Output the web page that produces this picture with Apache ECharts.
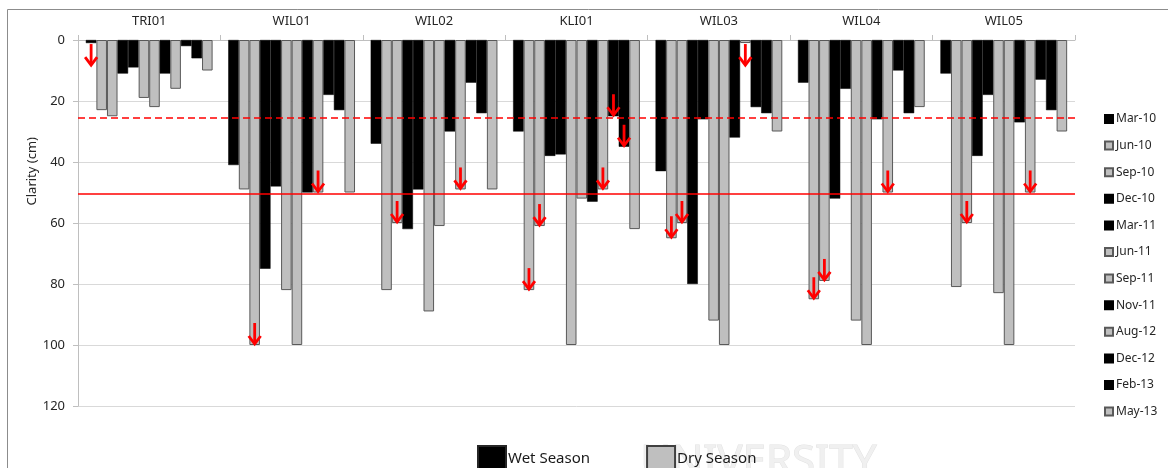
<!DOCTYPE html>
<html>
<head>
<meta charset="utf-8">
<title>Water clarity by site</title>
<script src="https://cdn.jsdelivr.net/npm/echarts@6/dist/echarts.min.js"></script>
<style>
  html, body { margin: 0; padding: 0; background: #ffffff; }
  #chart { width: 1168px; height: 468px; }
</style>
</head>
<body>
<div id="chart"></div>
<script>
// Sampling sites along the x axis
const sites = ['TRI01', 'WIL01', 'WIL02', 'KLI01', 'WIL03', 'WIL04', 'WIL05'];

// Sampling dates and their season
const dates = ['Mar-10', 'Jun-10', 'Sep-10', 'Dec-10', 'Mar-11', 'Jun-11',
               'Sep-11', 'Nov-11', 'Aug-12', 'Dec-12', 'Feb-13', 'May-13'];
const seasons = ['wet', 'dry', 'dry', 'wet', 'wet', 'dry',
                 'dry', 'wet', 'dry', 'wet', 'wet', 'dry'];

// Clarity (cm) per date, one value per site in the order of `sites`
const mar10 = [1, 41, 34, 30, 43, 14, 11];
const jun10 = [23, 49, 82, 82, 65, 85, 81];
const sep10 = [25, 100, 60, 61, 60, 79, 60];
const dec10 = [11, 75, 62, 38, 80, 52, 38];
const mar11 = [9, 48, 49, 37.5, 26, 16, 18];
const jun11 = [19, 82, 89, 100, 92, 92, 83];
const sep11 = [22, 100, 61, 52, 100, 100, 100];
const nov11 = [11, 50, 30, 53, 32, 26, 27];
const aug12 = [16, 50, 49, 49, 1, 50, 50];
const dec12 = [2, 18, 14, 25, 22, 10, 13];
const feb13 = [6, 23, 24, 35, 24, 24, 23];
const may13 = [10, 50, 49, 62, 30, 22, 30];
const clarity = [mar10, jun10, sep10, dec10, mar11, jun11, sep11, nov11, aug12, dec12, feb13, may13];

// Readings where the disc was still visible at the bottom: [site index, date index]
const bottomVisible = [
  [0, 0],
  [1, 2], [1, 8],
  [2, 2], [2, 8],
  [3, 1], [3, 2], [3, 8], [3, 9], [3, 10],
  [4, 1], [4, 2], [4, 8],
  [5, 1], [5, 2], [5, 8],
  [6, 2], [6, 8]
];

// Reference levels (cm)
const dashedLevel = 25.6;
const solidLevel = 50.5;

// Y axis ticks
const yMin = 0, yMax = 120, yStep = 20;

const FONT = 'Noto Sans';
const WET = '#000000';
const DRY = '#bfbfbf';
const DRY_EDGE = '#595959';
const CAT_GAP = 0.11;

const chart = echarts.init(document.getElementById('chart'), null, { renderer: 'canvas' });

const barSeries = dates.map((d, i) => ({
  name: d,
  type: 'bar',
  data: clarity[i],
  barGap: '0%',
  barCategoryGap: (CAT_GAP * 100) + '%',
  itemStyle: seasons[i] === 'wet'
    ? { color: WET, borderColor: WET, borderWidth: 0.5 }
    : { color: DRY, borderColor: DRY_EDGE, borderWidth: 1 },
  emphasis: { disabled: true },
  z: 2
}));

// Empty series that only feed the season legend (scatter, so they take no bar slot)
const seasonSeries = [
  { name: 'Wet Season', type: 'scatter', data: [], itemStyle: { color: WET, opacity: 1, borderColor: '#262626', borderWidth: 1 } },
  { name: 'Dry Season', type: 'scatter', data: [], itemStyle: { color: DRY, opacity: 1, borderColor: '#404040', borderWidth: 1.5 } }
];

const arrowData = bottomVisible.map(([s, d]) => [s, clarity[d][s], d]);

const arrowSeries = {
  type: 'custom',
  name: 'arrows',
  data: arrowData,
  encode: { x: 0, y: 1 },
  z: 6,
  silent: true,
  renderItem: function (params, api) {
    const s = api.value(0), v = api.value(1), d = api.value(2);
    const base = api.coord([s, 0]);
    const band = api.size([1, 0])[0];
    const inner = band * (1 - CAT_GAP);
    const bw = inner / dates.length;
    const x = base[0] - inner / 2 + (d + 0.5) * bw;
    const yBar = api.coord([s, v])[1];
    let tip = yBar, tail = yBar - 22;
    if (tail < base[1]) { tail = yBar + 1; tip = yBar + 23; }
    const style = { stroke: '#ff0000', lineWidth: 2.8, fill: null, lineCap: 'butt', lineJoin: 'miter' };
    return {
      type: 'group',
      children: [
        { type: 'line', shape: { x1: x, y1: tail, x2: x, y2: tip - 1.5 }, style: style },
        { type: 'polyline', shape: { points: [[x - 6, tip - 9], [x, tip - 1], [x + 6, tip - 9]] }, style: style }
      ]
    };
  },
  markLine: {
    silent: true,
    symbol: 'none',
    label: { show: false },
    animation: false,
    data: [
      { yAxis: dashedLevel, lineStyle: { color: '#ff0000', width: 1.5, type: [7, 4] } },
      { yAxis: solidLevel, lineStyle: { color: '#ff0000', width: 1.5, type: 'solid' } }
    ]
  }
};

const option = {
  animation: false,
  backgroundColor: '#ffffff',
  textStyle: { fontFamily: FONT },
  grid: { left: 78, right: 93, top: 40, bottom: 62, containLabel: false },
  legend: [
    {
      data: dates,
      orient: 'vertical',
      left: 1099,
      top: 107,
      itemWidth: 8,
      itemHeight: 8,
      itemGap: 12.6,
      icon: 'rect',
      selectedMode: false,
      textStyle: { fontFamily: FONT, fontSize: 12, color: '#262626', lineHeight: 14, padding: [0, 0, 0, -2] }
    },
    {
      data: ['Wet Season', 'Dry Season'],
      orient: 'horizontal',
      left: 472,
      top: 440,
      itemWidth: 28,
      itemHeight: 26,
      itemGap: 56,
      icon: 'rect',
      selectedMode: false,
      textStyle: { fontFamily: FONT, fontSize: 15, color: '#1a1a1a', padding: [6, 0, 0, -3] }
    }
  ],
  xAxis: {
    type: 'category',
    position: 'top',
    data: sites,
    axisLine: { show: true, lineStyle: { color: '#bfbfbf', width: 1 } },
    axisTick: { show: true, length: 5, lineStyle: { color: '#bfbfbf' } },
    axisLabel: { fontFamily: FONT, fontSize: 13, color: '#262626', margin: 12 },
    splitLine: { show: false }
  },
  yAxis: {
    type: 'value',
    inverse: true,
    min: yMin,
    max: yMax,
    interval: yStep,
    axisLine: { show: true, lineStyle: { color: '#bfbfbf', width: 1 } },
    axisTick: { show: true, length: 5, lineStyle: { color: '#bfbfbf' } },
    axisLabel: { fontFamily: FONT, fontSize: 13, color: '#262626', margin: 13 },
    splitLine: { show: true, lineStyle: { color: '#d9d9d9', width: 1 } }
  },
  graphic: [
    {
      type: 'rect',
      silent: true,
      z: -10,
      shape: { x: 7.5, y: 9.5, width: 1200, height: 500 },
      style: { fill: null, stroke: '#8c8c8c', lineWidth: 1 }
    },
    {
      type: 'text',
      silent: true,
      z: -5,
      left: 640,
      top: 442,
      style: { text: 'UNIVERSITY', fontFamily: FONT, fontSize: 42, fill: '#f0f0f0', stroke: '#e2e2e2', lineWidth: 1, letterSpacing: 5 }
    },
    {
      type: 'text',
      silent: true,
      left: 26,
      top: 137,
      rotation: Math.PI / 2,
      style: { text: 'Clarity (cm)', fontFamily: FONT, fontSize: 13, fill: '#262626' }
    }
  ],
  series: barSeries.concat(seasonSeries, [arrowSeries])
};

chart.setOption(option);
</script>
</body>
</html>
